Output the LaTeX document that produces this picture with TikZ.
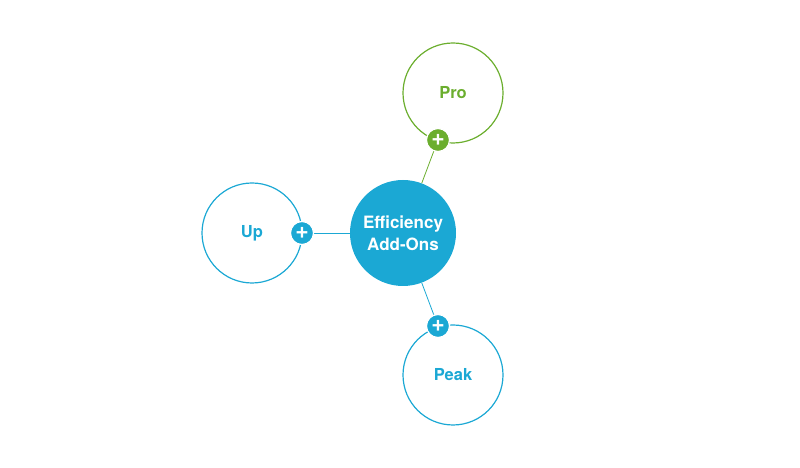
\documentclass[tikz,border=0pt]{standalone}
\usepackage{fontspec}
\setmainfont{TeX Gyre Heros}
\definecolor{addblue}{HTML}{1BA8D4}
\definecolor{addgreen}{HTML}{6BAE2E}
\begin{document}
\begin{tikzpicture}[x=1pt,y=1pt,
	ring/.style={circle,draw=#1,line width=1.2pt,minimum size=100pt,inner sep=0pt,text=#1,font=\fontsize{16.5}{20}\selectfont\bfseries},
	plus/.style={circle,fill=#1,draw=white,line width=1.2pt,minimum size=23pt,inner sep=0pt,text=white,font=\fontsize{23}{23}\selectfont\bfseries},
	link/.style={draw=#1,line width=0.8pt}]

	\useasboundingbox (0,0) rectangle (800,468);

	% hub
	\node[circle,fill=addblue,minimum size=106pt,inner sep=0pt,text=white,align=center,font=\fontsize{17}{22}\selectfont\bfseries] (eff) at (403,235) {Efficiency\\Add-Ons};

	% add-ons
	\node[ring=addgreen] (pro) at (453,375) {Pro};
	\node[ring=addblue] (up) at (252,235) {Up};
	\node[ring=addblue] (peak) at (453,93) {Peak};

	% links
	\draw[link=addgreen] (eff) -- (438,328);
	\draw[link=addblue] (eff) -- (302,235);
	\draw[link=addblue] (eff) -- (438,142);

	% plus badges
	\node[plus=addgreen] (proplus) at (438,328) {+};
	\node[plus=addblue] (upplus) at (302,235) {+};
	\node[plus=addblue] (peakplus) at (438,142) {+};
\end{tikzpicture}
\end{document}
